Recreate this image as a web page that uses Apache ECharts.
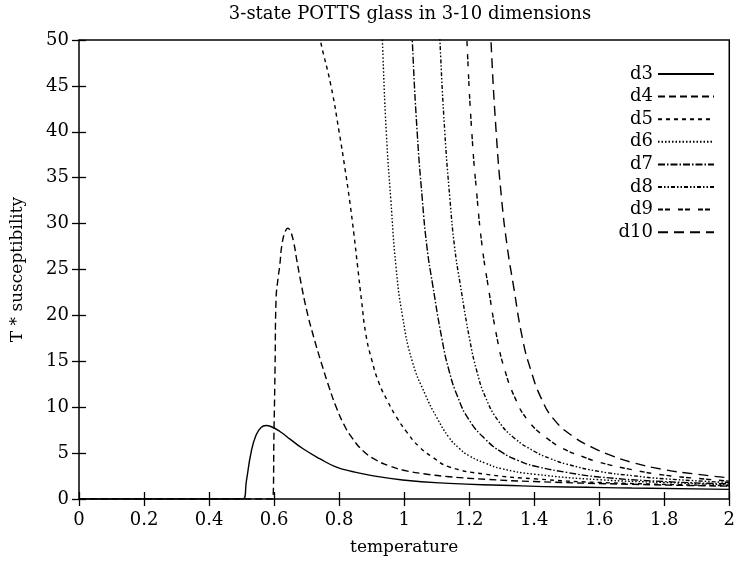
<!DOCTYPE html>
<html>
<head>
<meta charset="utf-8">
<script src="https://cdn.jsdelivr.net/npm/echarts@6/dist/echarts.min.js"></script>
<style>
  html, body { margin: 0; padding: 0; background: #fff; }
  #chart { width: 738px; height: 567px; }
</style>
</head>
<body>
<div id="chart"></div>
<script>
// values: [temperature, T * susceptibility]
var d3 = [[0,0],[0.505,0],[0.515,2],[0.53,5.2],[0.545,7],[0.56,7.8],[0.575,8.0],[0.59,7.9],[0.62,7.3],[0.65,6.5],[0.688,5.5],[0.74,4.4],[0.79,3.5],[0.84,3.0],[0.893,2.6],[0.995,2.07],[1.138,1.7],[1.3,1.5],[1.5,1.3],[1.7,1.2],[2,1.05]];
var d4 = [[0,0],[0.595,0],[0.600,8],[0.603,14.4],[0.606,21.7],[0.612,24],[0.617,25.3],[0.625,27.9],[0.635,29.2],[0.642,29.5],[0.65,29.2],[0.66,28],[0.67,26],[0.683,23.5],[0.70,20.6],[0.719,18],[0.749,14.4],[0.77,12.1],[0.79,10.1],[0.815,8.1],[0.841,6.6],[0.875,5.2],[0.913,4.25],[0.955,3.6],[0.995,3.16],[1.06,2.75],[1.138,2.43],[1.25,2.15],[1.4,1.9],[1.7,1.6],[2,1.4]];
var d5 = [[0.72,54],[0.742,50],[0.775,45],[0.800,40],[0.818,36],[0.832,32.6],[0.845,29],[0.857,25.3],[0.869,21.6],[0.882,18],[0.9,15.2],[0.923,12.6],[0.95,10.6],[0.975,9],[1.01,7.2],[1.046,5.7],[1.09,4.5],[1.138,3.5],[1.25,2.7],[1.4,2.2],[1.6,1.8],[2,1.45]];
var d6 = [[0.928,55],[0.933,50],[0.945,40],[0.959,32.6],[0.975,25.3],[0.995,19.9],[1.025,15.0],[1.066,11.3],[1.1,8.9],[1.138,6.7],[1.17,5.5],[1.2,4.7],[1.25,3.9],[1.3,3.3],[1.4,2.7],[1.6,2.1],[1.8,1.8],[2,1.55]];
var d7 = [[1.02,55],[1.025,50],[1.04,40],[1.056,32.6],[1.07,27.5],[1.087,23.5],[1.117,17.3],[1.138,14.0],[1.165,11.1],[1.2,8.6],[1.25,6.5],[1.3,5.1],[1.35,4.2],[1.4,3.6],[1.5,2.9],[1.6,2.4],[1.8,1.9],[2,1.65]];
var d8 = [[1.105,55],[1.110,50],[1.125,40],[1.141,32.6],[1.155,27.5],[1.172,23.5],[1.202,17.3],[1.223,14.0],[1.25,11.1],[1.29,8.5],[1.34,6.6],[1.4,5.2],[1.45,4.4],[1.5,3.8],[1.6,3.0],[1.7,2.55],[1.8,2.2],[2,1.8]];
var d9 = [[1.188,55],[1.193,50],[1.208,40],[1.225,32.6],[1.24,27.5],[1.257,23.5],[1.287,17.3],[1.31,14.0],[1.34,11.1],[1.38,8.6],[1.44,6.6],[1.5,5.3],[1.55,4.6],[1.6,4.0],[1.7,3.2],[1.8,2.6],[1.9,2.25],[2,1.95]];
var d10 = [[1.262,55],[1.267,50],[1.283,40],[1.30,32.6],[1.317,27.5],[1.335,23.5],[1.365,17.3],[1.39,14.0],[1.42,11.1],[1.46,8.7],[1.52,6.8],[1.58,5.6],[1.64,4.7],[1.7,4.0],[1.8,3.2],[1.9,2.7],[2,2.3]];

var names = ["d3","d4","d5","d6","d7","d8","d9","d10"];
var values = [d3,d4,d5,d6,d7,d8,d9,d10];
var dashes = ["solid",[7,4],[4,4],[1.5,2],[7,2,1.5,2],[4,2,1.5,2,1.5,2],[5,2,5,8],[10,6]];

var font = "'DejaVu Serif', serif";
var chart = echarts.init(document.getElementById("chart"));

var series = names.map(function(n, i){
  return {
    name: n,
    type: "line",
    data: values[i],
    symbol: "none",
    smooth: 0.5,
    clip: true,
    lineStyle: { color: "#000", width: 1.4, type: dashes[i] },
    itemStyle: { color: "#000" }
  };
});

var tickCommon = { show: true, inside: true, length: 7, lineStyle: { color: "#000", width: 1.3 } };

chart.setOption({
  animation: false,
  backgroundColor: "#fff",
  title: {
    text: "3-state POTTS glass in 3-10 dimensions",
    left: 405, top: 0, textAlign: "center",
    textStyle: { fontFamily: font, fontSize: 18, fontWeight: "normal", color: "#000" }
  },
  legend: {
    data: names,
    orient: "vertical",
    right: 18, top: 60,
    align: "right",
    itemWidth: 56, itemHeight: 10, itemGap: 4.6,
    itemStyle: { opacity: 0 },
    textStyle: { fontFamily: font, fontSize: 18, color: "#000" },
    selectedMode: false
  },
  grid: { left: 79, right: 7, top: 40, bottom: 68, show: true, borderColor: "#000", borderWidth: 1.5 },
  xAxis: [{
    type: "value", min: 0, max: 2, interval: 0.2,
    name: "temperature", nameLocation: "middle", nameGap: 40,
    nameTextStyle: { fontFamily: font, fontSize: 17, color: "#000" },
    axisLine: { show: false },
    axisTick: tickCommon,
    splitLine: { show: false },
    axisLabel: { fontFamily: font, fontSize: 18, color: "#000", margin: 12,
      formatter: function(v){ return +v.toFixed(1) + ""; } }
  }, {
    type: "value", min: 0, max: 2, interval: 0.2, position: "top",
    axisLine: { show: false }, axisTick: tickCommon, axisLabel: { show: false }, splitLine: { show: false }
  }],
  yAxis: [{
    type: "value", min: 0, max: 50, interval: 5,
    name: "T * susceptibility", nameLocation: "middle", nameGap: 53,
    nameTextStyle: { fontFamily: font, fontSize: 17, color: "#000" },
    axisLine: { show: false },
    axisTick: tickCommon,
    splitLine: { show: false },
    axisLabel: { fontFamily: font, fontSize: 18, color: "#000", margin: 10 }
  }, {
    type: "value", min: 0, max: 50, interval: 5, position: "right",
    axisLine: { show: false }, axisTick: tickCommon, axisLabel: { show: false }, splitLine: { show: false }
  }],
  series: series
});
</script>
</body>
</html>
